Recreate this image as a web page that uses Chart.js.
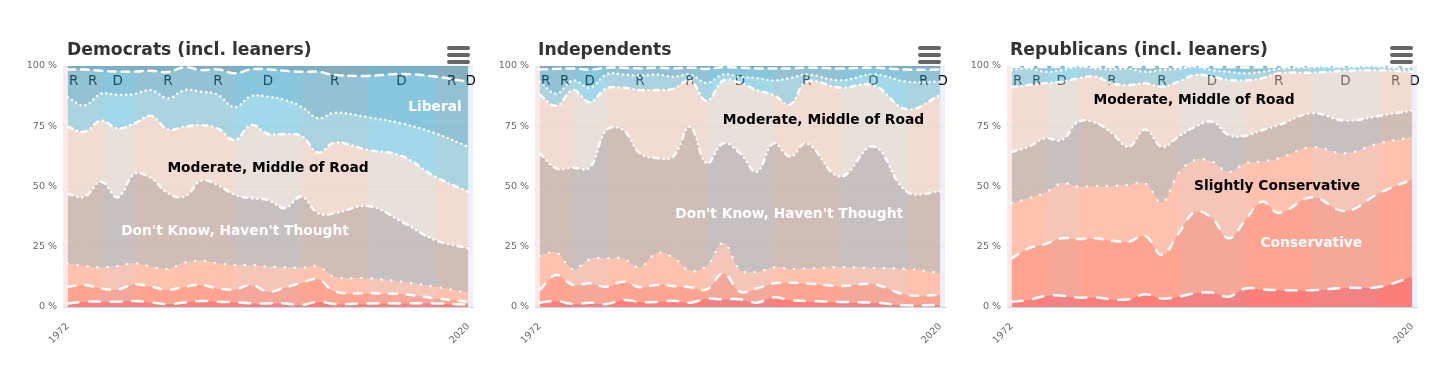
<!DOCTYPE html>
<html><head><meta charset="utf-8">
<script src="https://cdn.jsdelivr.net/npm/chart.js@4.4.1/dist/chart.umd.min.js"></script>
<style>
html,body{margin:0;padding:0;background:#fff;width:1456px;height:372px;overflow:hidden;position:relative;}
canvas{position:absolute;top:0;}
.title{position:absolute;top:39px;font-family:"DejaVu Sans";font-weight:bold;font-size:17.2px;line-height:20px;color:#333;white-space:nowrap;}
.menu{position:absolute;width:23px;}
.menu div{position:absolute;left:0;width:23px;height:3.6px;border-radius:2px;background:#666;}
</style></head><body>
<canvas id="c1" width="485" height="372" style="left:0px;width:485px;height:372px"></canvas>
<canvas id="c2" width="485" height="372" style="left:485px;width:485px;height:372px"></canvas>
<canvas id="c3" width="496" height="372" style="left:960px;width:496px;height:372px"></canvas>
<div class="title" style="left:67px">Democrats (incl. leaners)</div>
<div class="title" style="left:538px">Independents</div>
<div class="title" style="left:1010px">Republicans (incl. leaners)</div>
<div class="menu" style="left:447px;top:46px"><div style="top:0"></div><div style="top:7px"></div><div style="top:14px"></div></div>
<div class="menu" style="left:918px;top:46px"><div style="top:0"></div><div style="top:7px"></div><div style="top:14px"></div></div>
<div class="menu" style="left:1390px;top:46px"><div style="top:0"></div><div style="top:7px"></div><div style="top:14px"></div></div>
<script>
// ---------- DATA ----------
const years = [1972,1974,1976,1978,1980,1982,1984,1986,1988,1990,1992,1994,1996,1998,2000,2002,2004,2008,2012,2016,2020];
const categories = ['Extremely Conservative','Conservative','Slightly Conservative',"Don't Know, Haven't Thought",'Moderate, Middle of Road','Slightly Liberal','Liberal','Extremely Liberal'];
const xTickLabels = [1972, 2020];
const yTickValues = [0, 25, 50, 75, 100];

// Democrats (incl. leaners), share in %
const demExtremelyConservative = [1.5,2.2,2.2,2.2,2.5,1.9,1.2,1.9,2.5,2.2,2.0,1.5,1.5,1.5,0.8,2.2,1.2,1.5,1.5,1.5,1.0];
const demConservative          = [6.9,6.9,5.5,5.1,6.9,6.5,5.9,6.5,6.6,5.5,5.3,7.6,4.9,6.5,9.2,9.3,5.2,4.2,3.9,2.1,1.2];
const demSlightlyConservative  = [9.7,7.9,8.8,9.7,8.7,8.3,8.7,10.0,10.1,10.4,10.1,8.3,10.3,8.5,6.3,5.3,6.1,6.2,5.1,4.8,3.6];
const demDontKnow              = [28.8,28.8,35.5,28.5,37.1,36.7,31.4,27.4,33.2,32.5,29.1,27.7,27.7,24.5,29.5,22.1,26.4,30.0,24.9,19.4,18.5];
const demModerate              = [27.9,26.9,25.3,28.6,21.0,25.9,26.5,29.0,23.1,23.4,22.8,30.4,27.4,30.8,25.2,25.1,29.3,23.2,27.3,26.3,23.5];
const demSlightlyLiberal       = [12.2,10.9,11.2,13.9,12.2,10.7,12.9,15.2,13.8,14.0,13.6,12.0,15.5,14.1,12.1,14.3,12.4,13.6,13.5,18.0,18.7];
const demLiberal               = [11.5,14.9,9.5,9.7,9.3,8.0,10.9,9.5,9.0,10.6,14.1,11.1,11.3,12.1,14.5,19.3,15.7,17.2,20.5,23.5,27.0];
const demExtremelyLiberal      = [1.5,1.5,2.0,2.3,2.3,2.0,2.5,0.5,1.7,1.4,3.0,1.4,1.4,2.0,2.4,2.4,3.7,4.1,3.3,4.4,6.5];

// Independents
const indExtremelyConservative = [1.8,2.5,1.2,1.8,1.2,2.9,2.1,2.1,2.6,1.8,3.4,3.2,3.2,1.8,4.0,2.9,2.5,2.1,1.8,0.7,0.9];
const indConservative          = [5.3,10.8,7.9,8.0,7.2,7.6,6.1,7.0,6.1,6.4,3.9,10.8,3.2,5.9,5.8,7.2,7.3,6.6,7.6,4.3,4.1];
const indSlightlyConservative  = [14.1,9.2,6.5,10.0,11.8,9.5,8.3,13.2,11.8,6.8,9.7,12.5,9.1,6.8,6.7,5.7,6.2,7.8,6.8,10.8,9.0];
const indDontKnow              = [42.6,35.0,42.2,38.0,53.2,53.4,47.3,39.5,41.9,59.8,42.6,41.4,48.3,41.6,51.4,46.6,51.9,37.6,50.4,32.0,33.8];
const indModerate              = [24.2,26.0,32.2,27.2,17.3,17.6,26.2,28.2,28.1,19.2,25.9,26.1,29.2,33.9,20.1,21.6,25.6,36.9,25.4,34.2,40.2];
const indSlightlyLiberal       = [5.5,5.0,4.0,6.0,5.8,5.5,6.0,6.5,5.0,2.5,7.5,2.5,2.5,5.0,6.0,11.0,3.0,3.0,4.5,11.5,5.5];
const indLiberal               = [5.0,10.3,5.0,7.5,2.8,2.8,3.0,2.8,3.5,2.8,5.8,3.0,3.8,4.0,5.0,4.0,2.8,5.0,2.8,5.0,5.0];
const indExtremelyLiberal      = [1.5,1.2,1.0,1.5,0.7,0.7,1.0,0.7,1.0,0.7,1.2,0.5,0.7,1.0,1.0,1.0,0.7,1.0,0.7,1.5,1.5];

// Republicans (incl. leaners)
const repExtremelyConservative = [2.2,2.9,4.6,4.7,3.9,4.0,3.2,3.2,5.3,3.5,4.3,5.7,6.0,4.3,7.7,7.3,7.0,7.0,7.9,8.3,12.6];
const repConservative          = [18.0,21.4,21.5,23.8,24.3,24.5,24.3,23.9,24.2,18.1,26.3,33.8,30.8,24.2,28.4,36.4,32.1,38.5,31.9,38.9,40.4];
const repSlightlyConservative  = [22.8,20.8,21.3,22.8,21.7,21.7,22.7,23.5,21.8,21.7,24.9,21.5,23.5,27.6,23.5,16.6,22.6,20.8,24.0,20.7,17.4];
const repDontKnow              = [21.4,21.4,22.6,18.0,27.0,26.3,21.9,15.9,22.4,23.2,15.2,13.8,16.6,15.3,11.4,13.1,13.8,14.1,13.5,11.4,11.1];
const repModerate              = [26.8,25.6,22.8,24.2,18.0,19.1,20.7,25.6,19.1,24.9,22.8,21.5,18.7,22.8,23.0,21.5,21.5,16.8,20.7,18.9,16.1];
const repSlightlyLiberal       = [7.1,6.9,4.8,4.8,4.8,3.4,5.7,6.7,4.8,6.9,5.3,3.4,2.7,3.4,3.0,2.7,1.8,2.3,1.5,1.5,0.7];
const repLiberal               = [1.3,0.7,1.9,1.3,0.2,0.7,1.1,0.9,1.9,1.3,0.9,0.2,1.3,1.9,2.4,1.9,0.9,0.3,0.3,0.2,1.3];
const repExtremelyLiberal      = [0.4,0.3,0.5,0.4,0.1,0.3,0.4,0.3,0.5,0.4,0.3,0.1,0.4,0.5,0.6,0.5,0.3,0.2,0.2,0.1,0.4];

// Presidential terms (plot bands)
const termStart = [1969,1974,1976,1980,1988,1992,2000,2008,2016,2020];
const termEnd   = [1974,1976,1980,1988,1992,2000,2008,2016,2020,2024];
const termParty = ['R','R','D','R','R','D','R','D','R','D'];

// ---------- STYLE ----------
const fills = ['rgba(250,20,10,0.5)','rgba(255,95,55,0.5)','rgba(255,155,115,0.5)','rgba(161,145,131,0.5)',
               'rgba(229,207,185,0.5)','rgba(87,191,215,0.5)','rgba(37,155,189,0.5)','rgba(7,115,149,0.5)'];
const dashes = [[11,10.5],[8,9.5],[0,10],[5,5,0,5,0,5],[5,5,0,5],[0,5],[7.5,6],[]];
const bandColor = {R:'rgba(255,0,0,0.09)', D:'rgba(20,90,230,0.09)'};
const FONT = '"DejaVu Sans"';

const bandsPlugin = {
  id: 'bands',
  beforeDraw(chart) {
    const {ctx, chartArea: a, scales: {x}} = chart;
    ctx.save();
    ctx.beginPath(); ctx.rect(a.left, a.top, a.width, a.height); ctx.clip();
    termStart.forEach((s, i) => {
      const x0 = Math.max(x.getPixelForValue(s), a.left);
      const x1 = Math.min(x.getPixelForValue(termEnd[i]), a.right);
      if (x1 <= x0) return;
      ctx.fillStyle = bandColor[termParty[i]];
      ctx.fillRect(x0, a.top, x1 - x0, a.height);
    });
    ctx.restore();
  },
  beforeDatasetsDraw(chart) {
    const {ctx, chartArea: a, scales: {x}} = chart;
    ctx.save();
    ctx.font = '13.5px ' + FONT;
    ctx.fillStyle = '#000';
    ctx.textAlign = 'center';
    ctx.textBaseline = 'alphabetic';
    termStart.forEach((s, i) => {
      const x0 = Math.max(x.getPixelForValue(s), a.left);
      const x1 = Math.min(x.getPixelForValue(termEnd[i]), a.right);
      if (x1 <= x0) return;
      ctx.fillText(termParty[i], (x0 + x1) / 2, a.top + 18.5);
    });
    ctx.restore();
  }
};

const seriesLabelPlugin = {
  id: 'seriesLabels',
  afterDatasetsDraw(chart, args, opts) {
    const {ctx, scales: {x, y}} = chart;
    ctx.save();
    ctx.font = 'bold 13.8px ' + FONT;
    ctx.textAlign = 'center';
    ctx.textBaseline = 'middle';
    (opts.items || []).forEach(it => {
      ctx.fillStyle = it.color;
      ctx.fillText(it.text, x.getPixelForValue(it.x), y.getPixelForValue(it.y));
    });
    ctx.restore();
  }
};

function makeChart(id, series, labels, padLeft, padRight) {
  const datasets = series.map((arr, i) => ({
    label: categories[i],
    data: years.map((yr, j) => ({x: yr, y: arr[j]})),
    fill: i === 0 ? 'origin' : '-1',
    backgroundColor: fills[i],
    borderColor: i === 7 ? 'rgba(0,0,0,0)' : '#ffffff',
    borderWidth: 2.5,
    borderDash: dashes[i],
    borderCapStyle: 'round',
    borderJoinStyle: 'round',
    pointRadius: 0,
    pointHoverRadius: 0,
    tension: 0.4
  }));
  return new Chart(document.getElementById(id), {
    type: 'line',
    data: {datasets},
    plugins: [bandsPlugin, seriesLabelPlugin],
    options: {
      responsive: false,
      animation: false,
      devicePixelRatio: 1,
      events: [],
      layout: {padding: {left: padLeft, right: padRight, top: 66, bottom: 0}},
      plugins: {legend: {display: false}, tooltip: {enabled: false}, title: {display: false},
                seriesLabels: {items: labels}},
      scales: {
        x: {
          type: 'linear', min: 1971.44, max: 2020.56,
          afterBuildTicks: s => { s.ticks = xTickLabels.map(v => ({value: v})); },
          afterFit: s => { s.height = 65; s.paddingLeft = 0; s.paddingRight = 0; },
          grid: {display: false, drawTicks: false},
          border: {display: true, color: '#ccd6eb', width: 1},
          ticks: {autoSkip: false, minRotation: 45, maxRotation: 45, padding: 14,
                  color: '#666', font: {family: 'DejaVu Sans', size: 9.5},
                  callback: v => String(v)}
        },
        y: {
          stacked: true, min: 0, max: 100,
          afterBuildTicks: s => { s.ticks = yTickValues.map(v => ({value: v})); },
          afterFit: s => { s.width = 40; s.paddingTop = 0; s.paddingBottom = 0; },
          grid: {color: '#e6e6e6', lineWidth: 1, drawTicks: false},
          border: {display: false},
          ticks: {padding: 6, color: '#666', font: {family: 'DejaVu Sans', size: 9.5},
                  callback: v => v + ' %'}
        }
      }
    }
  });
}

makeChart('c1',
  [demExtremelyConservative, demConservative, demSlightlyConservative, demDontKnow, demModerate, demSlightlyLiberal, demLiberal, demExtremelyLiberal],
  [{text: 'Liberal', x: 2016.0, y: 82.8, color: '#fff'},
   {text: 'Moderate, Middle of Road', x: 1996.0, y: 57.7, color: '#000'},
   {text: "Don't Know, Haven't Thought", x: 1992.05, y: 31.5, color: '#fff'}],
  23, 12);
makeChart('c2',
  [indExtremelyConservative, indConservative, indSlightlyConservative, indDontKnow, indModerate, indSlightlyLiberal, indLiberal, indExtremelyLiberal],
  [{text: 'Moderate, Middle of Road', x: 2006.0, y: 77.6, color: '#000'},
   {text: "Don't Know, Haven't Thought", x: 2001.9, y: 38.4, color: '#fff'}],
  10, 25);
makeChart('c3',
  [repExtremelyConservative, repConservative, repSlightlyConservative, repDontKnow, repModerate, repSlightlyLiberal, repLiberal, repExtremelyLiberal],
  [{text: 'Moderate, Middle of Road', x: 1993.85, y: 85.9, color: '#000'},
   {text: 'Slightly Conservative', x: 2003.8, y: 49.9, color: '#000'},
   {text: 'Conservative', x: 2007.9, y: 26.4, color: '#fff'}],
  7, 39);
</script>
</body></html>
